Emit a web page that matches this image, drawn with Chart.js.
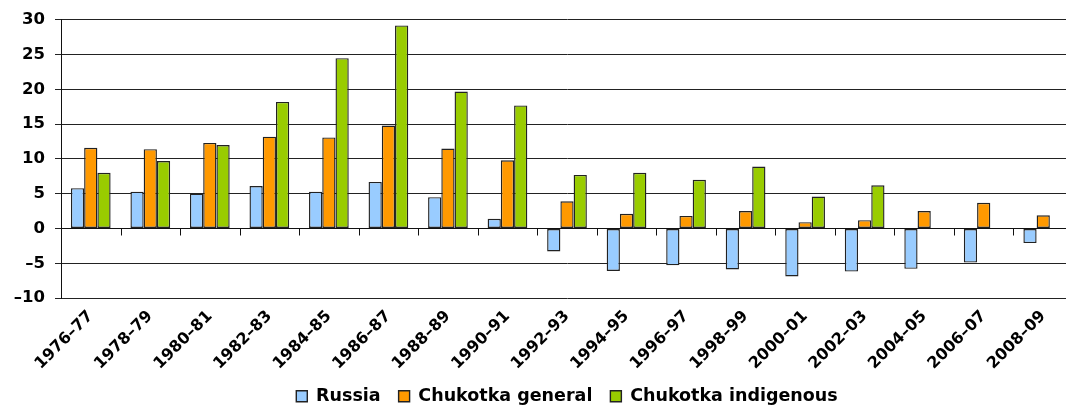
<!DOCTYPE html>
<html>
<head>
<meta charset="utf-8">
<script src="https://cdn.jsdelivr.net/npm/chart.js@4/dist/chart.umd.min.js"></script>
<style>
  html, body { margin: 0; padding: 0; background: #fff; overflow: hidden; }
  #wrap { width: 1076px; height: 408px; }
</style>
</head>
<body>
<div id="wrap"><canvas id="chart" width="1076" height="408"></canvas></div>
<script>
// Categories (two-year periods)
const periods = ["1976–77", "1978–79", "1980–81", "1982–83", "1984–85", "1986–87",
                 "1988–89", "1990–91", "1992–93", "1994–95", "1996–97", "1998–99",
                 "2000–01", "2002–03", "2004–05", "2006–07", "2008–09"];

// Series values
const russia     = [5.8, 5.3, 5.0, 6.1, 5.3, 6.7, 4.5, 1.4, -3.3, -6.1, -5.3, -5.9,
                    -6.9, -6.2, -5.8, -4.9, -2.1];
const chukGen    = [11.6, 11.4, 12.3, 13.2, 13.1, 14.8, 11.5, 9.8, 3.9, 2.1, 1.8, 2.5,
                    0.9, 1.2, 2.5, 3.7, 1.9];
const chukIndig  = [8.0, 9.7, 12.0, 18.2, 24.5, 29.2, 19.7, 17.7, 7.7, 8.0, 7.0, 8.9,
                    4.6, 6.2, null, null, null];

// Y axis ticks
const yMin = -10, yMax = 30, yStep = 5;

const font = "'DejaVu Sans', Verdana, sans-serif";

// Zero line with tick marks between categories (Excel style category axis)
const zeroAxis = {
  id: "zeroAxis",
  afterDatasetsDraw(chart) {
    const {ctx, chartArea, scales: {x, y}} = chart;
    const y0 = Math.round(y.getPixelForValue(0)) + 0.5;
    const half = (x.getPixelForValue(1) - x.getPixelForValue(0)) / 2;
    ctx.save();
    ctx.strokeStyle = "#111";
    ctx.lineWidth = 1;
    ctx.beginPath();
    ctx.moveTo(chartArea.left, y0);
    ctx.lineTo(chartArea.right, y0);
    for (let i = 1; i <= periods.length; i++) {
      const bx = Math.round(x.getPixelForValue(i) - half) + 0.5;
      ctx.moveTo(bx, y0);
      ctx.lineTo(bx, y0 + 7);
    }
    ctx.stroke();
    ctx.restore();
  }
};

const barStyle = {borderColor: "#222", borderWidth: 1.4, borderSkipped: false,
                  barPercentage: 1.0, categoryPercentage: 0.667};

new Chart(document.getElementById("chart"), {
  type: "bar",
  data: {
    labels: periods,
    datasets: [
      Object.assign({label: "Russia", data: russia, backgroundColor: "#99CCFF"}, barStyle),
      Object.assign({label: "Chukotka general", data: chukGen, backgroundColor: "#FF9900"}, barStyle),
      Object.assign({label: "Chukotka indigenous", data: chukIndig, backgroundColor: "#99CC00"}, barStyle)
    ]
  },
  options: {
    responsive: false,
    animation: false,
    // bottom is negative so the legend sits low, as in the original
    layout: {padding: {top: 6, right: 3, left: 0, bottom: -7}},
    plugins: {
      tooltip: {enabled: false},
      legend: {
        position: "bottom",
        fullSize: false,
        labels: {
          color: "#000",
          font: {family: font, size: 17.5, weight: "bold"},
          boxWidth: 11, boxHeight: 11, padding: 18
        }
      }
    },
    scales: {
      x: {
        afterFit(scale) { scale.height = 71.5; },
        grid: {display: false, drawTicks: false},
        border: {display: false},
        ticks: {
          color: "#000",
          font: {family: font, size: 16, weight: "bold"},
          minRotation: 45, maxRotation: 45, padding: 9, autoSkip: false
        }
      },
      y: {
        min: yMin, max: yMax,
        afterFit(scale) { scale.width = 61; },
        grid: {color: "#222", lineWidth: 1, tickLength: 6, drawTicks: true},
        border: {display: true, color: "#111", width: 1},
        ticks: {
          stepSize: yStep,
          color: "#000",
          padding: 10,
          font: {family: font, size: 16.5, weight: "bold"},
          callback: v => String(v).replace("-", "–")
        }
      }
    }
  },
  plugins: [zeroAxis]
});
</script>
</body>
</html>
